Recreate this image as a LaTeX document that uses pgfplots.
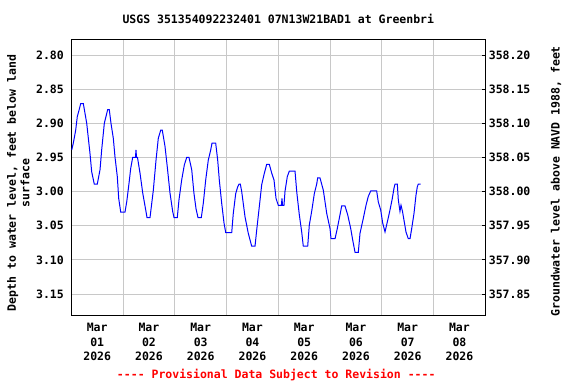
\documentclass[border=0pt]{standalone}
\usepackage{pgfplots}
\pgfplotsset{compat=1.18}
\usepackage{fontspec}
\setmainfont{DejaVu Sans Mono Bold}[BoldFont={DejaVu Sans Mono Bold}]
\definecolor{gridgray}{HTML}{C8C8C8}
\pgfplotstableread{
d v
0.008 2.939
0.039 2.929
0.085 2.910
0.116 2.890
0.149 2.881
0.182 2.871
0.232 2.871
0.298 2.900
0.361 2.944
0.394 2.971
0.444 2.989
0.502 2.989
0.555 2.968
0.587 2.939
0.638 2.900
0.703 2.880
0.734 2.880
0.767 2.900
0.812 2.922
0.844 2.949
0.889 2.978
0.916 3.010
0.955 3.030
1.038 3.030
1.071 3.015
1.115 2.988
1.148 2.966
1.186 2.950
1.240 2.950
1.250 2.939
1.260 2.950
1.279 2.950
1.328 2.973
1.380 3.002
1.443 3.029
1.463 3.038
1.521 3.038
1.585 2.998
1.637 2.954
1.681 2.922
1.728 2.910
1.758 2.910
1.811 2.934
1.855 2.964
1.907 3.002
1.959 3.029
1.985 3.038
2.048 3.038
2.081 3.012
2.133 2.983
2.184 2.961
2.230 2.950
2.274 2.950
2.327 2.968
2.371 3.003
2.410 3.025
2.448 3.038
2.512 3.038
2.551 3.017
2.597 2.983
2.647 2.954
2.694 2.939
2.719 2.929
2.790 2.929
2.829 2.954
2.860 2.983
2.906 3.017
2.951 3.046
2.984 3.060
3.100 3.060
3.130 3.032
3.177 3.003
3.215 2.993
3.241 2.989
3.266 2.989
3.293 3.000
3.357 3.037
3.420 3.061
3.486 3.080
3.550 3.080
3.583 3.056
3.633 3.022
3.679 2.990
3.724 2.975
3.776 2.960
3.826 2.960
3.873 2.973
3.917 2.983
3.956 3.010
4.000 3.020
4.060 3.020
4.071 3.010
4.082 3.020
4.110 3.020
4.129 3.000
4.174 2.978
4.213 2.970
4.323 2.970
4.356 3.000
4.406 3.034
4.452 3.059
4.483 3.080
4.568 3.080
4.599 3.049
4.645 3.029
4.696 3.003
4.742 2.989
4.761 2.980
4.806 2.980
4.870 2.998
4.936 3.032
4.999 3.054
5.019 3.069
5.096 3.069
5.140 3.054
5.192 3.034
5.225 3.021
5.289 3.021
5.341 3.034
5.399 3.054
5.438 3.071
5.483 3.089
5.546 3.089
5.579 3.061
5.643 3.039
5.695 3.020
5.739 3.007
5.786 2.999
5.901 2.999
5.932 3.015
5.979 3.027
6.017 3.046
6.062 3.059
6.114 3.042
6.158 3.027
6.203 3.010
6.236 2.995
6.255 2.989
6.300 2.989
6.319 3.012
6.351 3.029
6.371 3.020
6.400 3.029
6.429 3.042
6.467 3.059
6.512 3.069
6.545 3.069
6.578 3.054
6.622 3.032
6.661 3.005
6.686 2.993
6.705 2.989
6.752 2.989
}\wl
\begin{document}
\begin{tikzpicture}[font=\fontsize{11.5bp}{13.5bp}\selectfont]
\useasboundingbox (0,0) rectangle (576bp,384bp);
\begin{axis}[
  at={(71.3bp,68.3bp)}, anchor=south west,
  scale only axis, width=414bp, height=276.4bp,
  xmin=0, xmax=8, ymin=2.777, ymax=3.1817, y dir=reverse,
  axis line style={line width=1.2bp},
  xtick={0.5,1.5,2.5,3.5,4.5,5.5,6.5,7.5},
  xticklabels={{Mar\\01\\2026},{Mar\\02\\2026},{Mar\\03\\2026},{Mar\\04\\2026},{Mar\\05\\2026},{Mar\\06\\2026},{Mar\\07\\2026},{Mar\\08\\2026}},
  xticklabel style={align=center, font=\fontsize{11.5bp}{14.5bp}\selectfont, yshift=-4bp},
  minor xtick={1,2,3,4,5,6,7},
  xminorgrids, xmajorgrids=false, ymajorgrids,
  grid style={gridgray, line width=0.9bp},
  minor grid style={gridgray, line width=0.9bp},
  tick style={draw=none},
  ytick={2.80,2.85,2.90,2.95,3.00,3.05,3.10,3.15},
  yticklabel style={xshift=-4bp, /pgf/number format/.cd, fixed, fixed zerofill, precision=2, assume math mode=true},
  title={USGS 351354092232401 07N13W21BAD1 at Greenbri},
  title style={at={(axis description cs:0.5,1.052)}, anchor=center},
  ylabel={Depth to water level, feet below land\\surface},
  ylabel style={align=center, at={(axis description cs:-0.128,0.48)}, anchor=center},
  xlabel={-{}-{}-{}- Provisional Data Subject to Revision -{}-{}-{}-},
  xlabel style={at={(axis description cs:0.495,-0.2145)}, anchor=center, text=red},
]
\addplot[color=blue, line width=1bp] table[x=d, y=v] {\wl};
\end{axis}
\begin{axis}[
  at={(71.3bp,68.3bp)}, anchor=south west,
  scale only axis, width=414bp, height=276.4bp,
  xmin=0, xmax=8, ymin=357.8183, ymax=358.223,
  axis x line=none, axis y line*=right,
  axis line style={line width=1.2bp},
  ytick={357.85,357.90,357.95,358.00,358.05,358.10,358.15,358.20},
  yticklabel style={/pgf/number format/.cd, fixed, fixed zerofill, precision=2, assume math mode=true},
  tick align=inside, major tick length=3bp, tick style={black, line width=0.8bp},
  ylabel={Groundwater level above NAVD 1988, feet},
  ylabel style={at={(axis description cs:1.171,0.487)}, anchor=center},
]
\end{axis}
\end{tikzpicture}
\end{document}
